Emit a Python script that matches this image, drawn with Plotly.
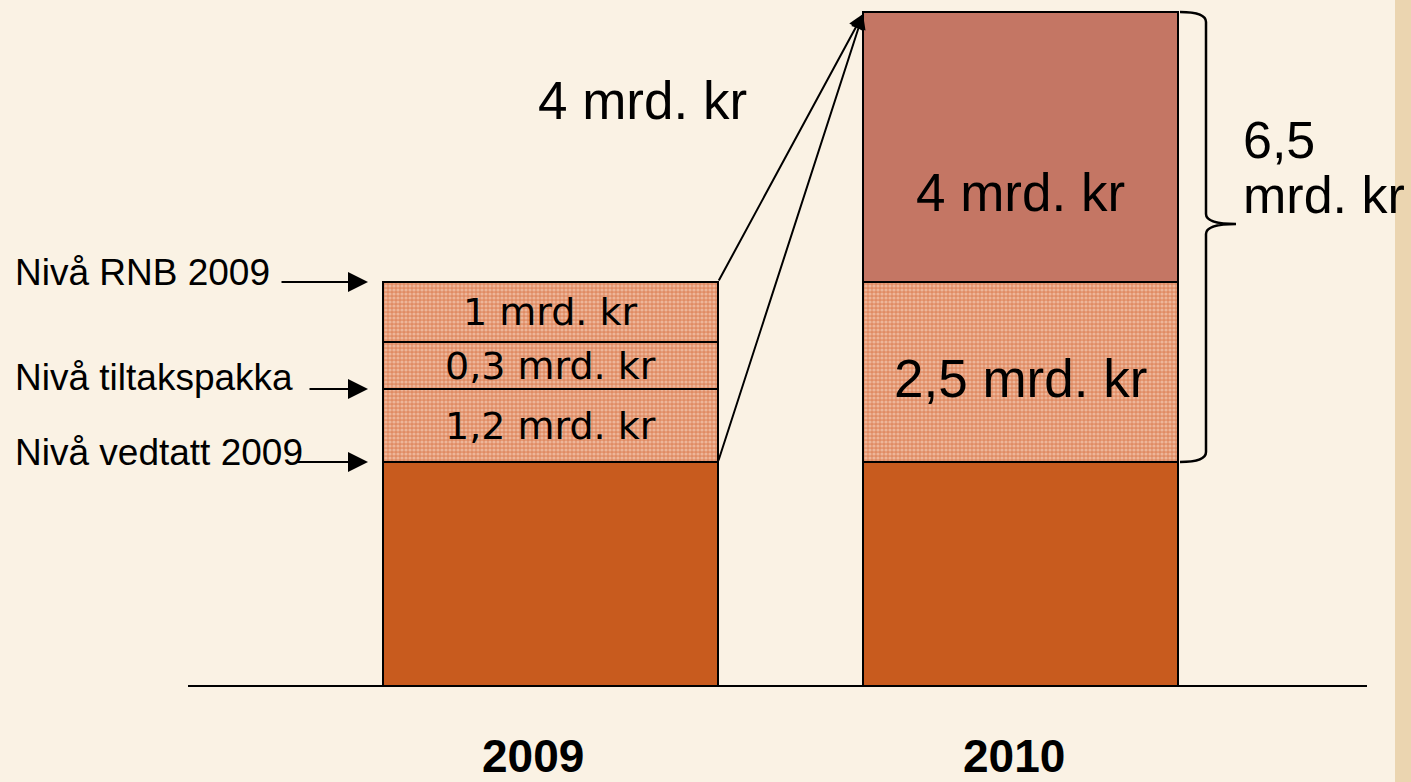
import plotly.graph_objects as go

# ---------------- data (drawn heights, in chart units) ----------------
years = ["2009", "2010"]
base_heights = [224, 224]                      # "Nivå vedtatt 2009" base block
seg_2009_heights = [73, 47, 60]                # 1,2 / 0,3 / 1 mrd. kr
seg_2009_labels = ["1,2 mrd. kr", "0,3 mrd. kr", "1 mrd. kr"]
seg_2010_heights = [180, 270]                  # 2,5 / 4 mrd. kr
seg_2010_labels = ["2,5 mrd. kr", "4 mrd. kr"]
level_labels = ["Nivå vedtatt 2009", "Nivå tiltakspakka", "Nivå RNB 2009"]
increase_label = "4 mrd. kr"
total_label = ["6,5", "mrd. kr"]

# ---------------- layout constants ----------------
W, H = 1411, 782
bar_x = [550.5, 1020.5]
bar_w = [335, 315]
BG = "#FAF2E4"
BASE_C = "#C85B1E"
TOP_C = "#C47664"
pattern = dict(shape=".", fgcolor="#FAE0D0", bgcolor="#E08C64", size=4, solidity=0.5)
outline = dict(color="black", width=2)
ARIAL = "Liberation Sans, Arial"

fig = go.Figure()
annotations = []

# base blocks
for i in range(2):
    fig.add_trace(go.Bar(x=[bar_x[i]], y=[base_heights[i]], base=[0], width=[bar_w[i]],
                         marker=dict(color=BASE_C, line=outline), hoverinfo="skip"))

# 2009 stacked hatched segments
b = base_heights[0]
levels_2009 = [b]
for h, lab in zip(seg_2009_heights, seg_2009_labels):
    fig.add_trace(go.Bar(x=[bar_x[0]], y=[h], base=[b], width=[bar_w[0]],
                         marker=dict(color="#E08C64", pattern=pattern, line=outline),
                         hoverinfo="skip"))
    annotations.append(dict(x=bar_x[0], y=b + h / 2, text=lab, showarrow=False,
                            font=dict(family="DejaVu Sans", size=38, color="black")))
    b += h
    levels_2009.append(b)
top_2009 = b

# 2010 segments
b = base_heights[1]
styles_2010 = [dict(color="#E08C64", pattern=pattern, line=outline),
               dict(color=TOP_C, line=outline)]
yshifts = [-6, -45]
for h, lab, st, ys in zip(seg_2010_heights, seg_2010_labels, styles_2010, yshifts):
    fig.add_trace(go.Bar(x=[bar_x[1]], y=[h], base=[b], width=[bar_w[1]],
                         marker=st, hoverinfo="skip"))
    annotations.append(dict(x=bar_x[1], y=b + h / 2, yshift=ys, text=lab, showarrow=False,
                            font=dict(family=ARIAL, size=53, color="black")))
    b += h
top_2010 = b
bot_2010 = base_heights[1]

left_2009_right = bar_x[0] + bar_w[0] / 2
left_2010 = bar_x[1] - bar_w[1] / 2
right_2010 = bar_x[1] + bar_w[1] / 2

# connecting arrows 2009 -> 2010
for ay in [top_2009, base_heights[0]]:
    annotations.append(dict(x=left_2010, y=top_2010 - 2, ax=left_2009_right, ay=ay,
                            xref="x", yref="y", axref="x", ayref="y", text="",
                            showarrow=True, arrowhead=2, arrowsize=1.5, arrowwidth=2,
                            arrowcolor="black"))

annotations.append(dict(x=642, y=586, text=increase_label, showarrow=False,
                        font=dict(family=ARIAL, size=53, color="black")))

# level labels + arrows
lvl_y = [levels_2009[0], levels_2009[1], levels_2009[3]]
lab_dy = [10, 12, 10]
arrow_start = [295, 308, 280]
for lab, ly, dy, ax0 in zip(level_labels, lvl_y, lab_dy, arrow_start):
    annotations.append(dict(x=13, y=ly + dy, text=lab, xanchor="left", yanchor="middle",
                            showarrow=False,
                            font=dict(family=ARIAL, size=37, color="black")))
    annotations.append(dict(x=368, y=ly, ax=ax0, ay=ly, xref="x", yref="y",
                            axref="x", ayref="y", text="", showarrow=True, arrowhead=2,
                            arrowsize=2, arrowwidth=2, arrowcolor="black"))

# total label
annotations.append(dict(x=1241, y=546, text=total_label[0], xanchor="left", showarrow=False,
                        font=dict(family=ARIAL, size=52, color="black")))
annotations.append(dict(x=1241, y=491, text=total_label[1], xanchor="left", showarrow=False,
                        font=dict(family=ARIAL, size=52, color="black")))

# year labels
for x, yr, xs in zip(bar_x, years, [-18, -7]):
    annotations.append(dict(x=x, y=-70, xshift=xs, text=yr, showarrow=False,
                            font=dict(family=ARIAL, size=46, color="black", weight="bold")))

# brace
tip = 462
bx = 1206
brace = (f"M {right_2010+2},{top_2010} Q {bx},{top_2010} {bx},{top_2010-10} "
         f"L {bx},{tip+10} Q {bx},{tip} {1236},{tip} "
         f"Q {bx},{tip} {bx},{tip-10} L {bx},{bot_2010+10} "
         f"Q {bx},{bot_2010} {right_2010+2},{bot_2010}")
shapes = [
    dict(type="path", path=brace, xref="x", yref="y", line=dict(color="black", width=2.5)),
    dict(type="line", x0=188, x1=1367, y0=0, y1=0, xref="x", yref="y",
         line=dict(color="black", width=2)),
    dict(type="rect", x0=1395, x1=1411, y0=0, y1=1, xref="x", yref="paper",
         fillcolor="#EBD5B0", line=dict(width=0), layer="below"),
]

fig.update_layout(
    width=W, height=H, margin=dict(l=0, r=0, t=0, b=0),
    paper_bgcolor=BG, plot_bgcolor=BG, showlegend=False, barmode="overlay",
    xaxis=dict(range=[0, W], visible=False, fixedrange=True),
    yaxis=dict(range=[686 - H, 686], visible=False, fixedrange=True),
    annotations=annotations, shapes=shapes,
)
fig.write_html("out.html", config={"displayModeBar": False},
               post_script="document.body.style.margin='0';document.body.style.background='#FAF2E4';")
